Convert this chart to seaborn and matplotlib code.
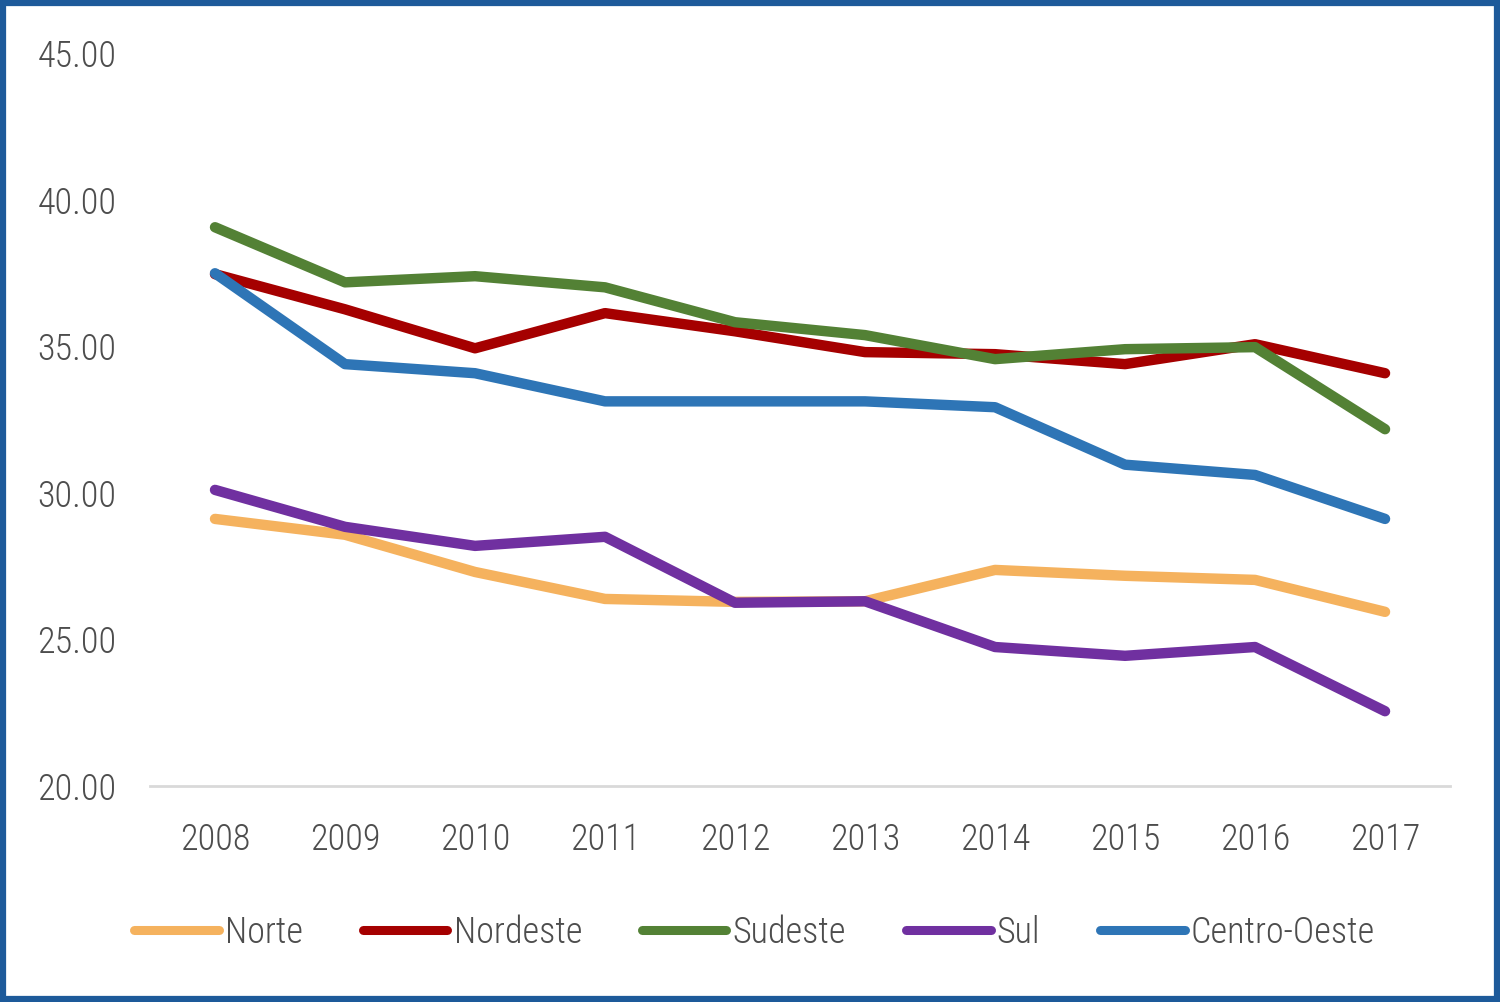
import matplotlib
matplotlib.use("Agg")
import matplotlib.pyplot as plt
import seaborn as sns
import pandas as pd
from matplotlib.patches import Rectangle
from matplotlib import font_manager

years = ["2008", "2009", "2010", "2011", "2012", "2013", "2014", "2015", "2016", "2017"]
norte = [29.11, 28.57, 27.30, 26.38, 26.28, 26.30, 27.37, 27.17, 27.03, 25.94]
nordeste = [37.46, 36.26, 34.93, 36.13, 35.51, 34.80, 34.73, 34.39, 35.07, 34.08]
sudeste = [39.06, 37.18, 37.39, 37.01, 35.82, 35.38, 34.56, 34.90, 34.97, 32.17]
sul = [30.10, 28.84, 28.19, 28.50, 26.25, 26.30, 24.74, 24.44, 24.74, 22.55]
centro_oeste = [37.49, 34.39, 34.08, 33.12, 33.12, 33.12, 32.92, 30.96, 30.61, 29.11]

series = {"Norte": norte, "Nordeste": nordeste, "Sudeste": sudeste,
          "Sul": sul, "Centro-Oeste": centro_oeste}
colors = {"Norte": "#F5B25E", "Nordeste": "#A50000", "Sudeste": "#538135",
          "Sul": "#7030A0", "Centro-Oeste": "#2E75B6"}

rows = []
for name, vals in series.items():
    for i, v in enumerate(vals):
        rows.append({"pos": i, "ano": years[i], "regiao": name, "valor": v})
df = pd.DataFrame(rows)

sns.set_theme(style="white")
available = {f.name for f in font_manager.fontManager.ttflist}
choices = [("Liberation Sans Narrow", 28), ("DejaVu Sans Condensed", 24),
           ("Roboto Condensed", 26), ("Roboto", 24), ("Liberation Sans", 24)]
fam, fsize = "DejaVu Sans", 22
for name, size in choices:
    if name in available:
        fam, fsize = name, size
        break
plt.rcParams['font.family'] = [fam, 'DejaVu Sans']
plt.rcParams['font.weight'] = 'light'
txt = "#4D4D4D"

fig = plt.figure(figsize=(15, 10.02), dpi=100)
ax = fig.add_axes([0.1, 0.2156, 0.8667, 0.7314])

sns.lineplot(data=df, x="pos", y="valor", hue="regiao", palette=colors,
             hue_order=list(series.keys()), linewidth=7.5, ax=ax,
             solid_capstyle="round", solid_joinstyle="round", legend=True)

ax.set_xlim(-0.5, 9.5)
ax.set_ylim(20, 45)
ax.set_yticks([20, 25, 30, 35, 40, 45])
ax.set_yticklabels([f"{v:.2f}" for v in [20, 25, 30, 35, 40, 45]])
ax.set_xticks(range(len(years)))
ax.set_xticklabels(years)
ax.set_xlabel("")
ax.set_ylabel("")
for s in ["top", "right", "left"]:
    ax.spines[s].set_visible(False)
ax.spines["bottom"].set_color("#D9D9D9")
ax.spines["bottom"].set_linewidth(2)
ax.tick_params(axis="y", length=0, pad=24, labelsize=fsize, labelcolor=txt)
ax.tick_params(axis="x", length=0, pad=26, labelsize=fsize, labelcolor=txt)
ax.grid(False)

handles, labels = ax.get_legend_handles_labels()
ax.legend_.remove()
for h in handles:
    h.set_solid_capstyle("round")
    h.set_linewidth(6.5)
leg = fig.legend(handles, labels, loc="center", bbox_to_anchor=(0.503, 0.069),
                 ncol=5, frameon=False, fontsize=fsize, handlelength=2.35,
                 handletextpad=0.17, columnspacing=1.65, labelcolor=txt)

fig.patches.append(Rectangle((0.002, 0.003), 0.996, 0.994, transform=fig.transFigure,
                             fill=False, edgecolor="#1D5A9A", linewidth=4.5))

fig.savefig("out.png", dpi=100)
